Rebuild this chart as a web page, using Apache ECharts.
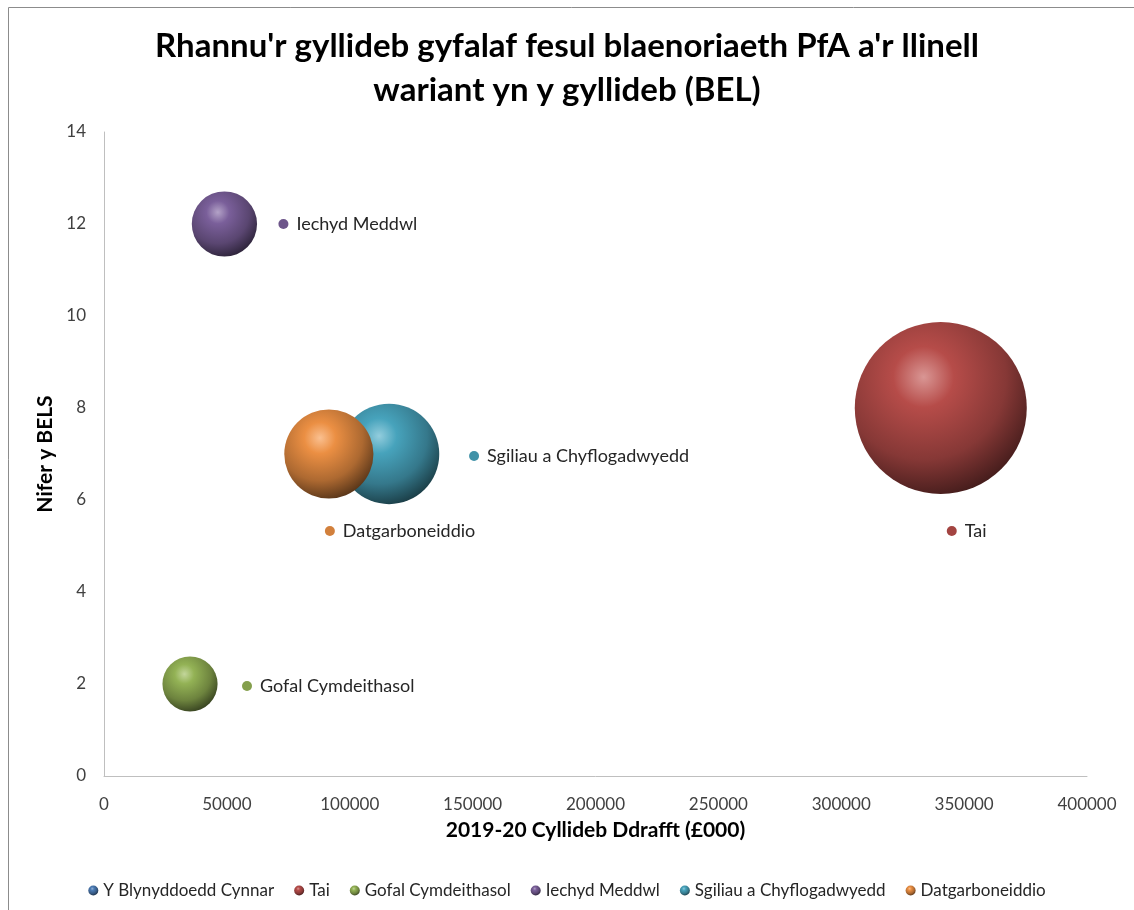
<!DOCTYPE html>
<html>
<head>
<meta charset="utf-8">
<script src="https://cdn.jsdelivr.net/npm/echarts@6/dist/echarts.min.js"></script>
<style>
  html, body { margin: 0; padding: 0; background: #fff; }
  #chart { width: 1134px; height: 910px; }
</style>
</head>
<body>
<div id="chart"></div>
<script>
// data
var categories = ['Y Blynyddoedd Cynnar', 'Tai', 'Gofal Cymdeithasol', 'Iechyd Meddwl', 'Sgiliau a Chyflogadwyedd', 'Datgarboneiddio'];
var budget = [null, 340500, 35000, 49000, 116000, 91500];   // x, also bubble size
var belCount = [null, 8, 2, 12, 7, 7];                     // y
var xTicks = [0, 50000, 100000, 150000, 200000, 250000, 300000, 350000, 400000];
var yTicks = [0, 2, 4, 6, 8, 10, 12, 14];

var colors = ['#4F81BD', '#C0504D', '#9BBB59', '#8064A2', '#4BACC6', '#F79646'];
// label offset from bubble centre (px)
var labelOffset = [[0, 0], [6, 123], [52, 2], [54, 0], [80, 2], [-4, 77]];

function mix(hex, target, t) {
  var n = parseInt(hex.slice(1), 16);
  var r = (n >> 16) & 255, g = (n >> 8) & 255, b = n & 255;
  r = Math.round(r + (target - r) * t);
  g = Math.round(g + (target - g) * t);
  b = Math.round(b + (target - b) * t);
  return 'rgb(' + r + ',' + g + ',' + b + ')';
}

function sphere(c) {
  return new echarts.graphic.RadialGradient(0.4, 0.32, 0.8, [
    { offset: 0, color: mix(c, 255, 0.4) },
    { offset: 0.22, color: mix(c, 0, 0.05) },
    { offset: 0.6, color: mix(c, 0, 0.3) },
    { offset: 0.85, color: mix(c, 0, 0.6) },
    { offset: 1, color: mix(c, 0, 0.8) }
  ]);
}

var maxBudget = 340500;
var maxRadius = 86;

var series = categories.map(function (name, i) {
  var data = budget[i] == null ? [] : [[budget[i], belCount[i], budget[i]]];
  return {
    name: name,
    type: 'scatter',
    data: data,
    symbol: 'circle',
    symbolSize: function (v) { return 2 * maxRadius * Math.sqrt(v[2] / maxBudget); },
    itemStyle: { color: sphere(colors[i]), opacity: 1 },
    label: {
      show: true,
      position: 'inside',
      align: 'left',
      verticalAlign: 'middle',
      offset: labelOffset[i],
      formatter: function () { return '{d|}{t|' + name + '}'; },
      rich: {
        d: { width: 10, height: 10, borderRadius: 5, backgroundColor: mix(colors[i], 0, 0.15) },
        t: { fontFamily: 'Lato', fontSize: 18, color: '#262626', padding: [0, 0, 0, 8] }
      }
    },
    emphasis: { disabled: true }
  };
});

var myChart = echarts.init(document.getElementById('chart'));
myChart.setOption({
  animation: false,
  title: {
    text: "Rhannu'r gyllideb gyfalaf fesul blaenoriaeth PfA a'r llinell\nwariant yn y gyllideb (BEL)",
    left: 'center',
    top: 19,
    textStyle: { fontFamily: 'Lato', fontSize: 33, fontWeight: 'bold', color: '#000', lineHeight: 44 }
  },
  graphic: [{
    type: 'rect',
    shape: { x: 8.5, y: 7.5, width: 1200, height: 1000 },
    style: { fill: 'none', stroke: '#8c8c8c', lineWidth: 1 },
    silent: true
  }],
  legend: {
    bottom: 6,
    left: 'center',
    icon: 'circle',
    itemWidth: 10,
    itemHeight: 10,
    itemGap: 20,
    textStyle: { fontFamily: 'Lato', fontSize: 17, color: '#262626' },
    data: categories
  },
  grid: { left: 104, right: 47, top: 132, bottom: 134 },
  xAxis: {
    type: 'value',
    min: xTicks[0],
    max: xTicks[xTicks.length - 1],
    interval: xTicks[1] - xTicks[0],
    name: '2019-20 Cyllideb Ddrafft (£000)',
    nameLocation: 'middle',
    nameGap: 44,
    nameTextStyle: { fontFamily: 'Lato', fontSize: 21, fontWeight: 'bold', color: '#000' },
    axisLine: { show: true, lineStyle: { color: '#BFBFBF' } },
    axisTick: { show: false },
    splitLine: { show: false },
    axisLabel: {
      fontFamily: 'Lato', fontSize: 17, color: '#404040', margin: 20,
      formatter: function (v) { return String(v); }
    }
  },
  yAxis: {
    type: 'value',
    min: yTicks[0],
    max: yTicks[yTicks.length - 1],
    interval: yTicks[1] - yTicks[0],
    name: 'Nifer y BELS',
    nameLocation: 'middle',
    nameGap: 48,
    nameTextStyle: { fontFamily: 'Lato', fontSize: 21, fontWeight: 'bold', color: '#000' },
    axisLine: { show: true, lineStyle: { color: '#BFBFBF' } },
    axisTick: { show: false },
    splitLine: { show: false },
    axisLabel: { fontFamily: 'Lato', fontSize: 17, color: '#404040', margin: 18 }
  },
  series: series
});
window.addEventListener('resize', function () { myChart.resize(); });
</script>
</body>
</html>
